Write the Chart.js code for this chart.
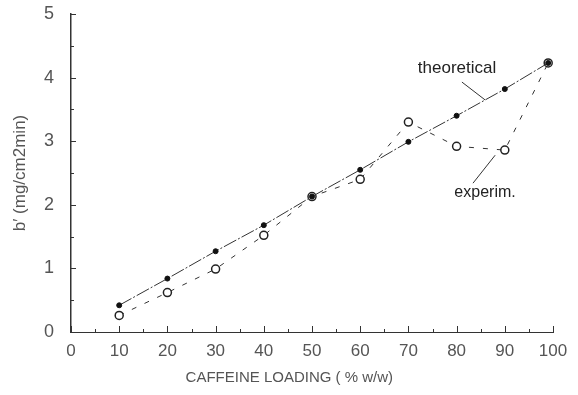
<!DOCTYPE html>
<html>
<head>
<meta charset="utf-8">
<script src="https://cdn.jsdelivr.net/npm/chart.js@4"></script>
<style>
  html, body { margin: 0; padding: 0; background: #fff; }
  #wrap { width: 578px; height: 395px; }
</style>
</head>
<body>
<div id="wrap"><canvas id="myChart" width="578" height="395"></canvas></div>
<script>
const loading = [10, 20, 30, 40, 50, 60, 70, 80, 90, 99];
const theoretical = [0.42, 0.84, 1.27, 1.68, 2.13, 2.55, 2.99, 3.40, 3.82, 4.23];
const experimental = [0.26, 0.62, 0.99, 1.52, 2.13, 2.40, 3.30, 2.92, 2.86, 4.23];
const xTicks = [0, 10, 20, 30, 40, 50, 60, 70, 80, 90, 100];
const yTicks = [0, 1, 2, 3, 4, 5];
const xTitle = "CAFFEINE LOADING ( % w/w)";
const yTitle = "b\u2032 (mg/cm2min)";

const ink = "#333";
const labelColor = "#555";
const fontFam = "'Liberation Sans', Arial, sans-serif";

const toPoints = (xs, ys) => xs.map((x, i) => ({ x: x, y: ys[i] }));

// ticks pointing into the plot, axis titles, and the text labels with leader lines
const paperAxes = {
  id: "paperAxes",
  afterDraw(chart) {
    const c = chart.ctx;
    const xs = chart.scales.x;
    const ys = chart.scales.y;
    const area = chart.chartArea;
    c.save();
    c.strokeStyle = ink;
    c.lineWidth = 1;
    c.beginPath();
    for (let v = 0; v <= 100; v += 5) {
      const px = Math.round(xs.getPixelForValue(v)) + 0.5;
      const len = v % 10 === 0 ? 6 : 3;
      c.moveTo(px, area.bottom);
      c.lineTo(px, area.bottom - len);
    }
    for (let v = 0; v <= 5; v += 0.5) {
      const py = Math.round(ys.getPixelForValue(v)) + 0.5;
      const len = v % 1 === 0 ? 5 : 3;
      c.moveTo(area.left, py);
      c.lineTo(area.left + len, py);
    }
    c.stroke();

    c.beginPath();
    c.moveTo(xs.getPixelForValue(81.1), ys.getPixelForValue(3.93));
    c.lineTo(xs.getPixelForValue(85.9), ys.getPixelForValue(3.65));
    c.moveTo(xs.getPixelForValue(88.0), ys.getPixelForValue(2.78));
    c.lineTo(xs.getPixelForValue(83.4), ys.getPixelForValue(2.34));
    c.stroke();

    c.fillStyle = "#222";
    c.textAlign = "center";
    c.textBaseline = "middle";
    c.font = "17px " + fontFam;
    c.fillText("theoretical", xs.getPixelForValue(80.1), ys.getPixelForValue(4.15));
    c.font = "16px " + fontFam;
    c.fillText("experim.", xs.getPixelForValue(85.9), ys.getPixelForValue(2.19));

    c.fillStyle = labelColor;
    c.font = "15px " + fontFam;
    c.fillText(xTitle, area.left + (area.right - area.left) * 0.453, 378);
    c.translate(20, (area.top + area.bottom) / 2);
    c.rotate(-Math.PI / 2);
    c.font = "17px " + fontFam;
    c.fillText(yTitle, 0, 0);
    c.restore();
  }
};

new Chart(document.getElementById("myChart"), {
  type: "scatter",
  data: {
    datasets: [
      {
        label: "theoretical",
        data: toPoints(loading, theoretical),
        showLine: true,
        borderColor: ink,
        borderWidth: 1,
        borderDash: [14, 2, 2, 2],
        pointStyle: "circle",
        pointRadius: 2.5,
        pointBackgroundColor: "#111",
        pointBorderColor: "#111",
        tension: 0,
      },
      {
        label: "experim.",
        data: toPoints(loading, experimental),
        showLine: true,
        borderColor: ink,
        borderWidth: 1,
        borderDash: [5, 9],
        pointStyle: "circle",
        pointRadius: 4,
        pointBorderWidth: 1.5,
        pointBackgroundColor: "#fff",
        pointBorderColor: "#222",
        tension: 0,
      },
    ],
  },
  options: {
    responsive: false,
    animation: false,
    layout: { padding: { top: 14, right: 25, left: 0, bottom: 0 } },
    plugins: {
      legend: { display: false },
      tooltip: { enabled: false },
    },
    scales: {
      x: {
        type: "linear",
        min: 0,
        max: 100,
        afterBuildTicks: (s) => { s.ticks = xTicks.map((v) => ({ value: v })); },
        afterFit: (s) => {
          s.height = 63;
          s.paddingLeft = 0;
          s.paddingRight = 0;
        },
        grid: { display: false, drawTicks: false },
        border: { display: true, color: ink, width: 1 },
        ticks: {
          color: labelColor,
          padding: 9,
          maxRotation: 0,
          font: { family: fontFam, size: 17 },
        },
      },
      y: {
        type: "linear",
        min: 0,
        max: 5,
        afterBuildTicks: (s) => { s.ticks = yTicks.map((v) => ({ value: v })); },
        afterFit: (s) => {
          s.width = 71;
          s.paddingTop = 0;
          s.paddingBottom = 0;
        },
        grid: { display: false, drawTicks: false },
        border: { display: true, color: ink, width: 1.5 },
        ticks: {
          color: labelColor,
          padding: 17,
          font: { family: fontFam, size: 18 },
        },
      },
    },
  },
  plugins: [paperAxes],
});
</script>
</body>
</html>
